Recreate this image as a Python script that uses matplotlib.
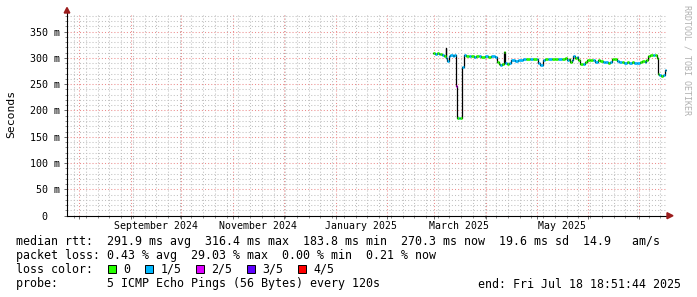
import matplotlib
matplotlib.use("Agg")
import matplotlib.pyplot as plt
import matplotlib.dates as mdates
from matplotlib.patches import Rectangle, Polygon
from matplotlib.ticker import FixedLocator, MultipleLocator, NullFormatter
import pandas as pd

# median rtt samples (ms) and loss bucket (index into loss_colors)
times = [
    "2025-02-28 10:00", "2025-03-01 12:00", "2025-03-02 12:00", "2025-03-03 12:00",
    "2025-03-04 12:00", "2025-03-05 12:00", "2025-03-06 12:00", "2025-03-07 16:00",
    "2025-03-08 00:00", "2025-03-08 12:00", "2025-03-09 12:00", "2025-03-10 12:00",
    "2025-03-12 00:00", "2025-03-13 00:00", "2025-03-13 22:00", "2025-03-14 06:00",
    "2025-03-15 12:00", "2025-03-16 12:00", "2025-03-17 18:00", "2025-03-18 12:00",
    "2025-03-20 00:00", "2025-03-21 12:00", "2025-03-23 00:00", "2025-03-24 12:00",
    "2025-03-26 00:00", "2025-03-27 12:00", "2025-03-29 00:00", "2025-03-31 00:00",
    "2025-04-02 00:00", "2025-04-04 00:00", "2025-04-06 00:00", "2025-04-07 10:00",
    "2025-04-08 12:00", "2025-04-09 12:00", "2025-04-10 12:00", "2025-04-11 14:00",
    "2025-04-12 00:00", "2025-04-13 12:00", "2025-04-14 12:00", "2025-04-15 18:00",
    "2025-04-18 00:00", "2025-04-20 00:00", "2025-04-23 00:00", "2025-04-25 00:00",
    "2025-04-27 00:00", "2025-04-29 00:00", "2025-05-01 00:00", "2025-05-02 00:00",
    "2025-05-03 00:00", "2025-05-04 20:00", "2025-05-06 00:00", "2025-05-08 00:00",
    "2025-05-10 00:00", "2025-05-12 00:00", "2025-05-14 00:00", "2025-05-16 00:00",
    "2025-05-18 00:00", "2025-05-19 06:00", "2025-05-20 12:00", "2025-05-21 00:00",
    "2025-05-22 00:00", "2025-05-23 00:00", "2025-05-24 00:00", "2025-05-25 00:00",
    "2025-05-26 00:00", "2025-05-27 00:00", "2025-05-28 12:00", "2025-05-30 00:00",
    "2025-05-31 00:00", "2025-06-02 00:00", "2025-06-04 00:00", "2025-06-05 00:00",
    "2025-06-06 12:00", "2025-06-08 00:00", "2025-06-09 12:00", "2025-06-11 00:00",
    "2025-06-12 12:00", "2025-06-14 00:00", "2025-06-15 00:00", "2025-06-16 12:00",
    "2025-06-18 00:00", "2025-06-19 12:00", "2025-06-21 00:00", "2025-06-22 12:00",
    "2025-06-24 00:00", "2025-06-25 12:00", "2025-06-27 00:00", "2025-06-28 12:00",
    "2025-06-30 00:00", "2025-07-01 12:00", "2025-07-03 00:00", "2025-07-04 12:00",
    "2025-07-05 12:00", "2025-07-06 18:00", "2025-07-08 00:00", "2025-07-09 12:00",
    "2025-07-11 00:00", "2025-07-12 00:00", "2025-07-12 14:00", "2025-07-13 06:00",
    "2025-07-14 12:00", "2025-07-15 12:00", "2025-07-16 18:00",
]
median_ms = [
    309, 308, 309, 308, 307, 305, 304, 318,
    300, 294, 303, 305, 304, 305, 246, 186,
    185, 186, 282, 305, 304, 303, 304, 302,
    303, 304, 302, 303, 302, 303, 302, 292,
    288, 286, 289, 312, 291, 288, 291, 295,
    294, 295, 298, 297, 298, 297, 298, 290,
    287, 296, 298, 297, 298, 297, 298, 297,
    299, 295, 298, 293, 296, 304, 300, 302,
    296, 289, 288, 292, 296, 295, 296, 293,
    295, 294, 292, 293, 291, 292, 297, 298,
    294, 292, 293, 291, 292, 290, 292, 290,
    291, 293, 294, 292, 296, 304, 306, 305,
    306, 300, 270, 267, 265, 268, 276,
]
loss_idx = [
    0, 1, 0, 1, 0, 1, 0, 0,
    1, 1, 1, 1, 1, 1, 2, 0,
    1, 0, 1, 1, 0, 1, 0, 1,
    0, 1, 0, 1, 0, 1, 1, 0,
    0, 1, 0, 0, 1, 0, 1, 1,
    1, 1, 1, 0, 1, 0, 1, 1,
    1, 1, 0, 1, 0, 0, 1, 0,
    0, 1, 0, 0, 1, 1, 0, 1,
    0, 0, 1, 0, 0, 0, 1, 1,
    0, 0, 1, 1, 0, 1, 0, 0,
    1, 1, 0, 1, 0, 1, 0, 1,
    1, 0, 0, 1, 0, 0, 0, 1,
    0, 0, 0, 1, 0, 1, 1,
]
last_sample_end = "2025-07-17 06:00"

loss_colors = ["#26ff00", "#00b8ff", "#dd00ff", "#5e00ff", "#ff0000"]
loss_labels = ["0", "1/5", "2/5", "3/5", "4/5"]

y_ticks = [0, 50, 100, 150, 200, 250, 300, 350]
y_tick_labels = ["  0", " 50 m", "100 m", "150 m", "200 m", "250 m", "300 m", "350 m"]
label_months = ["2024-09-01", "2024-11-01", "2025-01-01", "2025-03-01", "2025-05-01"]

x_start = "2024-07-24 16:00"
x_end = "2025-07-17 22:00"

stats_lines = [
    "median rtt:  291.9 ms avg  316.4 ms max  183.8 ms min  270.3 ms now  19.6 ms sd  14.9   am/s",
    "packet loss: 0.43 % avg  29.03 % max  0.00 % min  0.21 % now",
    "loss color:",
    "probe:       5 ICMP Echo Pings (56 Bytes) every 120s",
]
end_text = "end: Fri Jul 18 18:51:44 2025"

plt.rcParams['font.family'] = 'DejaVu Sans Mono'

W, H = 697, 297
fig = plt.figure(figsize=(W / 100, H / 100), dpi=100)


def fx(x):
    return x / W


def fy(y):
    return 1 - y / H


ax = fig.add_axes([fx(67), fy(215.7), fx(667) - fx(67), fy(13.1) - fy(215.7)])

t = list(mdates.date2num(pd.to_datetime(times)))
t_end = mdates.date2num(pd.to_datetime(last_sample_end))
t_all = t + [t_end]

# black median line (steps), loss-colored segments on top
ax.step(t_all, median_ms + [median_ms[-1]], where="post", color="black", lw=0.9, zorder=3)
ax.hlines(median_ms, t_all[:-1], t_all[1:],
          colors=[loss_colors[i] for i in loss_idx], lw=1.9, zorder=4)

ax.set_xlim(mdates.date2num(pd.to_datetime(x_start)), mdates.date2num(pd.to_datetime(x_end)))
ax.set_ylim(0, 385)

# grid
ax.xaxis.set_major_locator(mdates.MonthLocator())
ax.xaxis.set_minor_locator(mdates.WeekdayLocator(byweekday=mdates.MO))
ax.xaxis.set_major_formatter(NullFormatter())
ax.yaxis.set_major_locator(FixedLocator(y_ticks))
ax.yaxis.set_minor_locator(MultipleLocator(10))
ax.set_yticklabels(y_tick_labels)
ax.grid(which="minor", color="#c0c0c0", linestyle=(0, (1, 2)), lw=0.75, zorder=1)
ax.grid(which="major", color="#ec8c8c", linestyle=(0, (1, 2)), lw=0.75, zorder=2)

for s in ["top", "right"]:
    ax.spines[s].set_visible(False)
for s in ["left", "bottom"]:
    ax.spines[s].set_linewidth(0.8)
    ax.spines[s].set_zorder(5)

ax.tick_params(axis="both", which="major", length=2.5, width=0.6, color="#555555")
ax.tick_params(axis="both", which="minor", length=1.5, width=0.6, color="#777777")
ax.tick_params(axis="y", which="major", labelsize=7.2, pad=24.5)
for lbl in ax.get_yticklabels():
    lbl.set_horizontalalignment("left")

# month labels centred half a month after the month start
lab_pos = mdates.date2num(pd.to_datetime(label_months) + pd.Timedelta(days=15))
sec = ax.secondary_xaxis("bottom")
sec.xaxis.set_major_locator(FixedLocator(lab_pos))
sec.xaxis.set_major_formatter(mdates.DateFormatter("%B %Y"))
sec.tick_params(length=0, labelsize=7.1, pad=4)
sec.spines["bottom"].set_visible(False)

# arrows
arrow_col = "#9b1c1c"
fig.patches.append(Polygon([(fx(667), fy(212.7)), (fx(667), fy(218.7)), (fx(673), fy(215.7))],
                           closed=True, color=arrow_col, transform=fig.transFigure, figure=fig))
fig.patches.append(Polygon([(fx(64.2), fy(13)), (fx(69.8), fy(13)), (fx(67), fy(7.5))],
                           closed=True, color=arrow_col, transform=fig.transFigure, figure=fig))

fig.text(fx(11), fy(113.5), "Seconds", rotation=90, ha="center", va="center", fontsize=8.2)
fig.text(fx(687), fy(60), "RRDTOOL / TOBI OETIKER", rotation=270, ha="center", va="center",
         fontsize=6, color="#b0b0b0")

# legend / stats block
baselines = [245, 259, 273, 287.5]
for line, yb in zip(stats_lines, baselines):
    fig.text(fx(16), fy(yb), line, ha="left", va="baseline", fontsize=8.4)
fig.text(fx(478), fy(baselines[3]), end_text, ha="left", va="baseline", fontsize=8.4)

x = 108.3
for col, lab in zip(loss_colors, loss_labels):
    fig.patches.append(Rectangle((fx(x), fy(273.3)), 7.5 / W, 8.3 / H, facecolor=col,
                                 edgecolor="black", lw=0.7, transform=fig.transFigure, figure=fig))
    fig.text(fx(x + 15), fy(baselines[2]), lab, ha="left", va="baseline", fontsize=8.4)
    x += 30.2 + 6.9 * len(lab)

fig.savefig("out.png", dpi=100)
